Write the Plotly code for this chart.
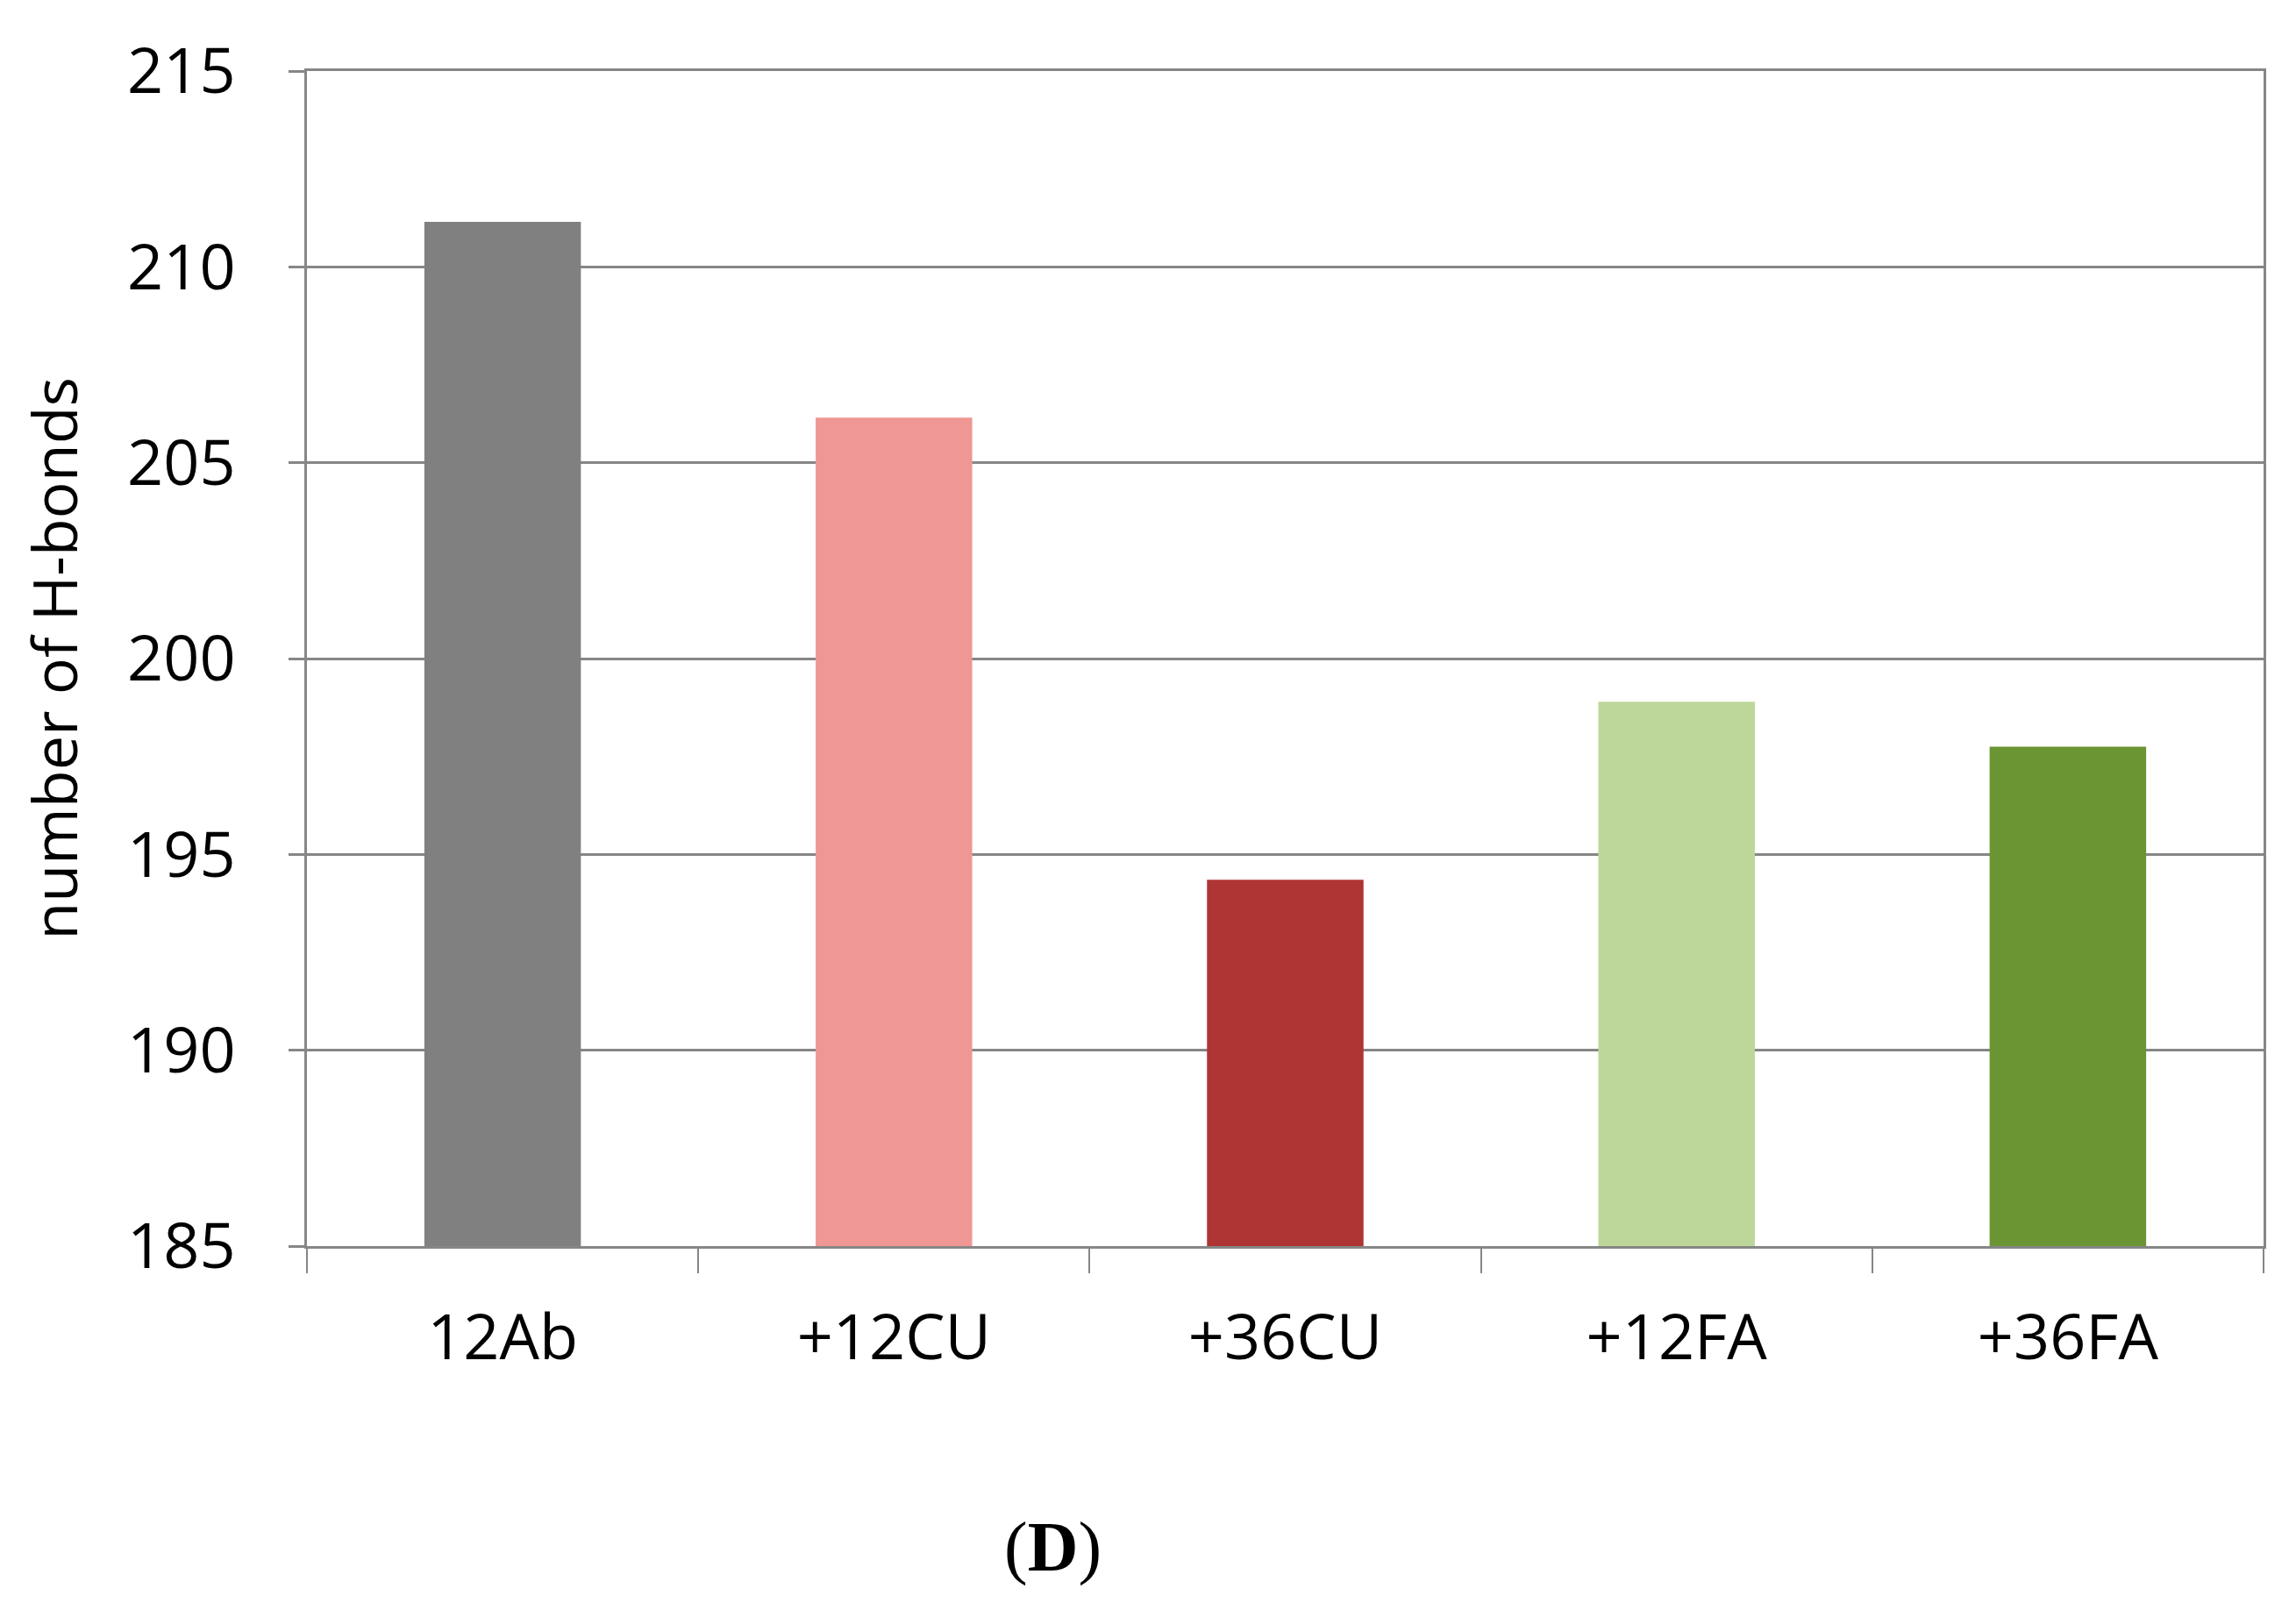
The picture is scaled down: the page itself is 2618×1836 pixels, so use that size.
import plotly.graph_objects as go

categories = ["12Ab", "+12CU", "+36CU", "+12FA", "+36FA"]
hbonds = [211.15, 206.15, 194.35, 198.9, 197.75]
bar_colors = ["#808080", "#EF9794", "#AF3434", "#BDD79A", "#6B9433"]
y_ticks = [185, 190, 195, 200, 205, 210, 215]

axis_grey = "#868686"
font_main = "Open Sans"

fig = go.Figure()
fig.add_trace(go.Bar(
    x=categories, y=hbonds,
    marker=dict(color=bar_colors, line=dict(width=0)),
    showlegend=False,
))

fig.update_layout(
    width=2618, height=1836,
    paper_bgcolor="white", plot_bgcolor="white",
    margin=dict(l=342, r=45, t=73, b=423),
    bargap=0.6,
    font=dict(family=font_main, color="black", size=70),
    xaxis=dict(
        type="category",
        showline=True, linecolor=axis_grey, linewidth=3, mirror=True,
        ticks="outside", tickson="boundaries", ticklen=28, tickwidth=2, tickcolor=axis_grey,
        showgrid=False,
        tickfont=dict(size=72, family=font_main),
        ticklabelstandoff=40,
    ),
    yaxis=dict(
        range=[185, 215], tickvals=y_ticks,
        showline=True, linecolor=axis_grey, linewidth=3, mirror=True,
        ticks="outside", ticklen=18, tickwidth=3, tickcolor=axis_grey,
        showgrid=True, gridcolor=axis_grey, gridwidth=3,
        zeroline=False,
        tickfont=dict(size=72, family=font_main),
        ticklabelstandoff=46,
        title=dict(text="number of H-bonds", font=dict(size=70, family=font_main), standoff=34),
    ),
    annotations=[dict(
        text="(<b>D</b>)", xref="paper", yref="paper", x=0.381, y=-0.256,
        xanchor="center", yanchor="middle", showarrow=False,
        font=dict(family="Liberation Serif", size=80, color="black"),
    )],
)

fig.write_html("out.html")
